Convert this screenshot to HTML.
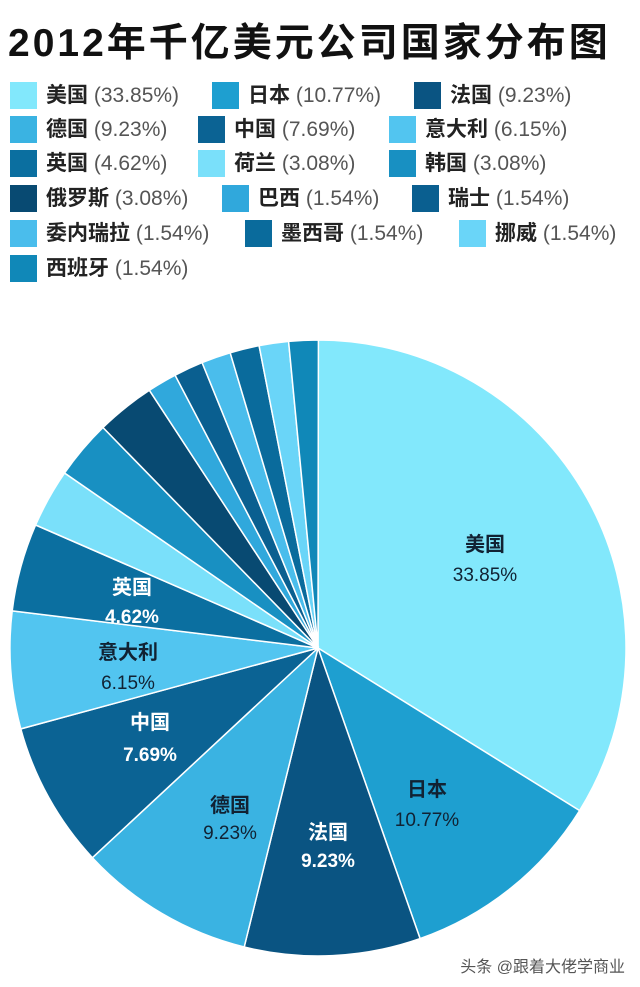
<!DOCTYPE html>
<html><head><meta charset="utf-8"><style>
body{margin:0;background:#fff;width:640px;height:987px;overflow:hidden;position:relative;font-family:"Liberation Sans","Noto Sans CJK SC",sans-serif}
.t{position:absolute;left:8px;top:12px;font-size:39px;font-weight:bold;color:#111;letter-spacing:3px;white-space:nowrap}
.it{position:absolute;height:27px;line-height:27px;font-size:21px;white-space:nowrap}
.sw{display:inline-block;width:27px;height:27px;vertical-align:top;margin-right:9px}
.it b{color:#222}.it span{color:#555}
</style></head><body>
<div class="t">2012年千亿美元公司国家分布图</div>
<div id="lg"></div>
<svg id="pie" width="640" height="987" style="position:absolute;left:0;top:0"></svg>
<script>
var d=[["美国",33.85,"#82e8fc"],["日本",10.77,"#1e9fd0"],["法国",9.23,"#0a5482"],["德国",9.23,"#3ab3e2"],["中国",7.69,"#0b6394"],["意大利",6.15,"#52c5f0"],["英国",4.62,"#0b6fa0"],["荷兰",3.08,"#7ae0fa"],["韩国",3.08,"#1890c2"],["俄罗斯",3.08,"#084a72"],["巴西",1.54,"#30a8dc"],["瑞士",1.54,"#0a5f90"],["委内瑞拉",1.54,"#4abdec"],["墨西哥",1.54,"#0a6b9c"],["挪威",1.54,"#6ad5f8"],["西班牙",1.54,"#1088b8"]];
var pos=[[10,82],[212,82],[414,82],[10,116],[198,116],[389,116],[10,150],[198,150],[389,150],[10,185],[222,185],[412,185],[10,220],[245,220],[459,220],[10,255]];
var h="";d.forEach(function(e,i){h+='<div class="it" style="left:'+pos[i][0]+'px;top:'+pos[i][1]+'px"><i class="sw" style="background:'+e[2]+'"></i><b>'+e[0]+'</b> <span>('+e[1].toFixed(2)+'%)</span></div>';});
document.getElementById("lg").innerHTML=h;
var cx=318,cy=648,r=308,a=0,s="",tot=100;
d.forEach(function(e){var a2=a+e[1]/tot*2*Math.PI;
var x1=cx+r*Math.sin(a),y1=cy-r*Math.cos(a),x2=cx+r*Math.sin(a2),y2=cy-r*Math.cos(a2);
s+='<path d="M'+cx+' '+cy+'L'+x1.toFixed(1)+' '+y1.toFixed(1)+'A'+r+' '+r+' 0 '+((a2-a)>Math.PI?1:0)+' 1 '+x2.toFixed(1)+' '+y2.toFixed(1)+'Z" fill="'+e[2]+'" stroke="#fff" stroke-width="1.5"/>';a=a2;});
var L=[["美国","33.85%",485,551,581,"#123"],["日本","10.77%",427,796,826,"#123"],["法国","9.23%",328,839,867,"#fff"],["德国","9.23%",230,812,839,"#123"],["中国","7.69%",150,729,761,"#fff"],["意大利","6.15%",128,659,689,"#123"],["英国","4.62%",132,594,623,"#fff"]];
L.forEach(function(l){s+='<text x="'+l[2]+'" y="'+l[3]+'" text-anchor="middle" font-size="20" font-weight="bold" fill="'+l[5]+'">'+l[0]+'</text><text x="'+l[2]+'" y="'+l[4]+'" text-anchor="middle" font-size="19" fill="'+l[5]+'"'+(l[5]=="#fff"?' font-weight="bold"':'')+'>'+l[1]+'</text>';});
s+='<text x="625" y="972" text-anchor="end" font-size="16" fill="#555">头条 @跟着大佬学商业</text>';
document.getElementById("pie").innerHTML=s;
</script>
</body></html>
